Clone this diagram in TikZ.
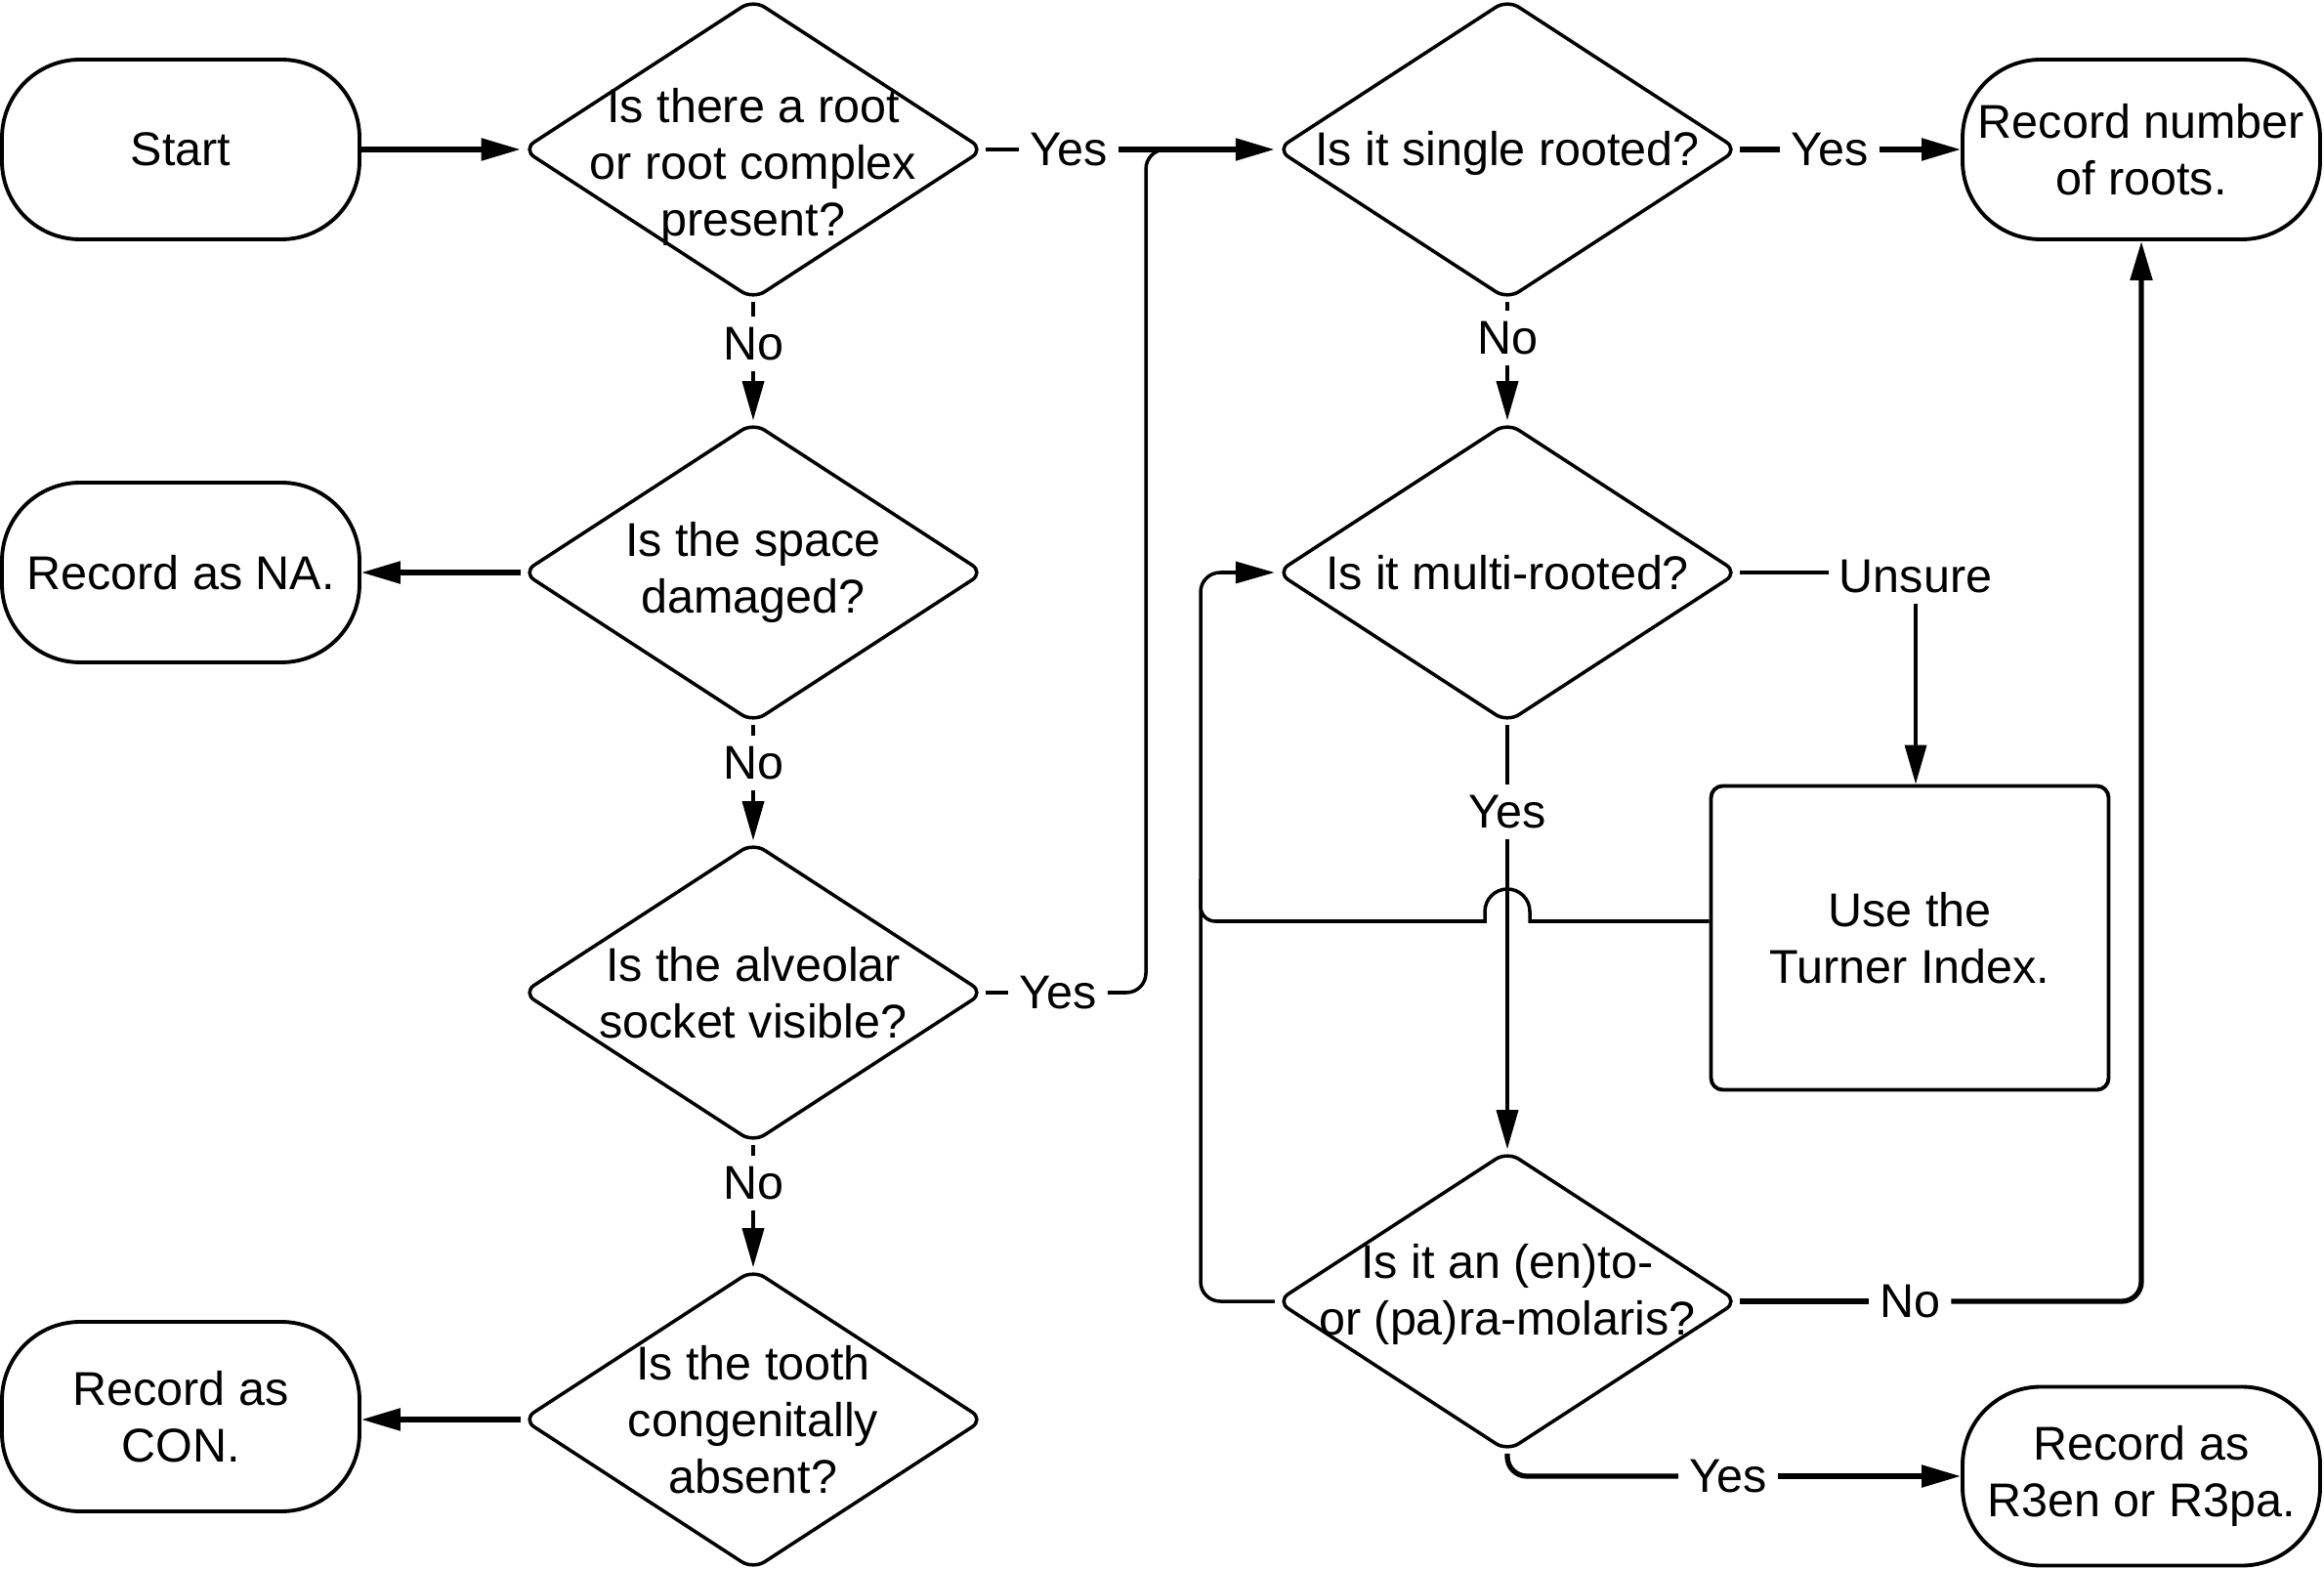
\documentclass[tikz,border=0pt]{standalone}
\usepackage{fontspec}
\setmainfont{Liberation Sans}
\usetikzlibrary{shapes.geometric,arrows.meta}

\tikzset{
  decision/.style 2 args={diamond, draw, line width=1pt, rounded corners=0.14cm,
    minimum width=4.73cm, minimum height=3.08cm, inner sep=0pt,
    label={[align=center, yshift=#1]center:#2}},
  terminal/.style={rectangle, draw, line width=1.1pt, rounded corners=0.8cm,
    minimum width=3.66cm, minimum height=1.84cm, inner sep=2pt, align=center},
  process/.style={rectangle, draw, line width=1.1pt, rounded corners=0.12cm,
    minimum width=4.07cm, minimum height=3.11cm, align=center},
  answer/.style={inner sep=3pt},
  flow/.style={line width=1pt},
  heavy/.style={line width=1.5pt},
}

\begin{document}
\begin{tikzpicture}[font=\fontsize{13.8}{16.5}\selectfont, >={Triangle[length=0.4cm,width=0.22cm]}]
  \useasboundingbox (0,0) rectangle (23.79,-16.06);

  % left column
  \node[terminal] (start) at (1.85,-1.53) {Start};
  \node[decision={-0.18cm}{Is there a root\\or root complex\\present?}] (d1) at (7.71,-1.53) {};
  \node[answer] (n1) at (7.71,-3.52) {No};
  \node[decision={0cm}{Is the space\\damaged?}] (d2) at (7.71,-5.86) {};
  \node[terminal] (na) at (1.85,-5.86) {Record as NA.};
  \node[answer] (n2) at (7.71,-7.81) {No};
  \node[decision={0cm}{Is the alveolar\\socket visible?}] (d3) at (7.71,-10.16) {};
  \node[answer] (y3) at (10.83,-10.16) {Yes};
  \node[answer] (n3) at (7.71,-12.11) {No};
  \node[decision={0cm}{Is the tooth\\congenitally\\absent?}] (d4) at (7.71,-14.53) {};
  \node[terminal, minimum height=1.94cm] (con) at (1.85,-14.50) {Record as\\CON.};
  \node[answer] (y1) at (10.94,-1.53) {Yes};

  % right column
  \node[decision={-0.04cm}{Is it single rooted?}] (d5) at (15.43,-1.53) {};
  \node[answer] (y5) at (18.73,-1.53) {Yes};
  \node[terminal] (rnum) at (21.92,-1.53) {Record number\\of roots.};
  \node[answer] (n5) at (15.43,-3.46) {No};
  \node[decision={0cm}{Is it multi-rooted?}] (d6) at (15.43,-5.86) {};
  \node[answer] (unsure) at (19.61,-5.90) {Unsure};
  \node[process] (turner) at (19.55,-9.60) {Use the\\Turner Index.};
  \node[answer] (y6) at (15.43,-8.31) {Yes};
  \node[decision={0.07cm}{Is it an (en)to-\\or (pa)ra-molaris?}] (d7) at (15.43,-13.32) {};
  \node[answer] (n7) at (19.55,-13.32) {No};
  \node[answer] (y7) at (17.69,-15.11) {Yes};
  \node[terminal, minimum height=1.83cm] (r3) at (21.92,-15.11) {Record as\\R3en or R3pa.};

  \coordinate (jr) at (15.66,-9.43);
  \coordinate (jl) at (15.20,-9.43);

  % connectors, left
  \draw[heavy,->] (start) -- (d1);
  \draw[flow] (d1) -- (n1);
  \draw[flow,->] (n1) -- (d2);
  \draw[heavy,->] (d2) -- (na);
  \draw[flow] (d2) -- (n2);
  \draw[flow,->] (n2) -- (d3);
  \draw[flow] (d3) -- (n3);
  \draw[flow,->] (n3) -- (d4);
  \draw[heavy,->] (d4.west) -- (d4.west -| con.east);
  \draw[flow] (d1.east) -- (y1);
  \draw[heavy,->] (y1) -- (d5.west);
  \draw[flow] (d3.east) -- (y3);
  \draw[flow,rounded corners=0.2cm] (y3) -| (11.73,-1.53) -- (11.95,-1.53);

  % connectors, right
  \draw[heavy] (d5.east) -- (y5);
  \draw[heavy,->] (y5) -- (rnum.west);
  \draw[flow] (d5.south) -- (n5);
  \draw[flow,->] (n5) -- (d6.north);
  \draw[flow] (d6.east) -- (d6.east -| unsure.west);
  \draw[flow,->] (unsure.south) -- (unsure.south |- turner.north);
  \draw[flow] (d6.south) -- (y6);
  \draw[flow,->] (y6) -- (d7.north);
  \draw[flow] ([yshift=0.17cm]turner.west) -- (jr) -- ++(0,0.1)
    arc[start angle=0, end angle=180, radius=0.23cm] -- ++(0,-0.1) -- (jl);
  \draw[flow,rounded corners=0.15cm] (jl) -- (12.29,-9.43) -- (12.29,-9.0);
  \draw[flow,->,rounded corners=0.2cm] (d7.west) -| (12.29,-5.86) -- (d6.west);
  \draw[heavy] (d7.east) -- (n7);
  \draw[heavy,->,rounded corners=0.2cm] (n7) -| (rnum.south);
  \draw[heavy,rounded corners=0.2cm] (d7.south) |- (y7);
  \draw[heavy,->] (y7) -- (r3.west);
\end{tikzpicture}
\end{document}
